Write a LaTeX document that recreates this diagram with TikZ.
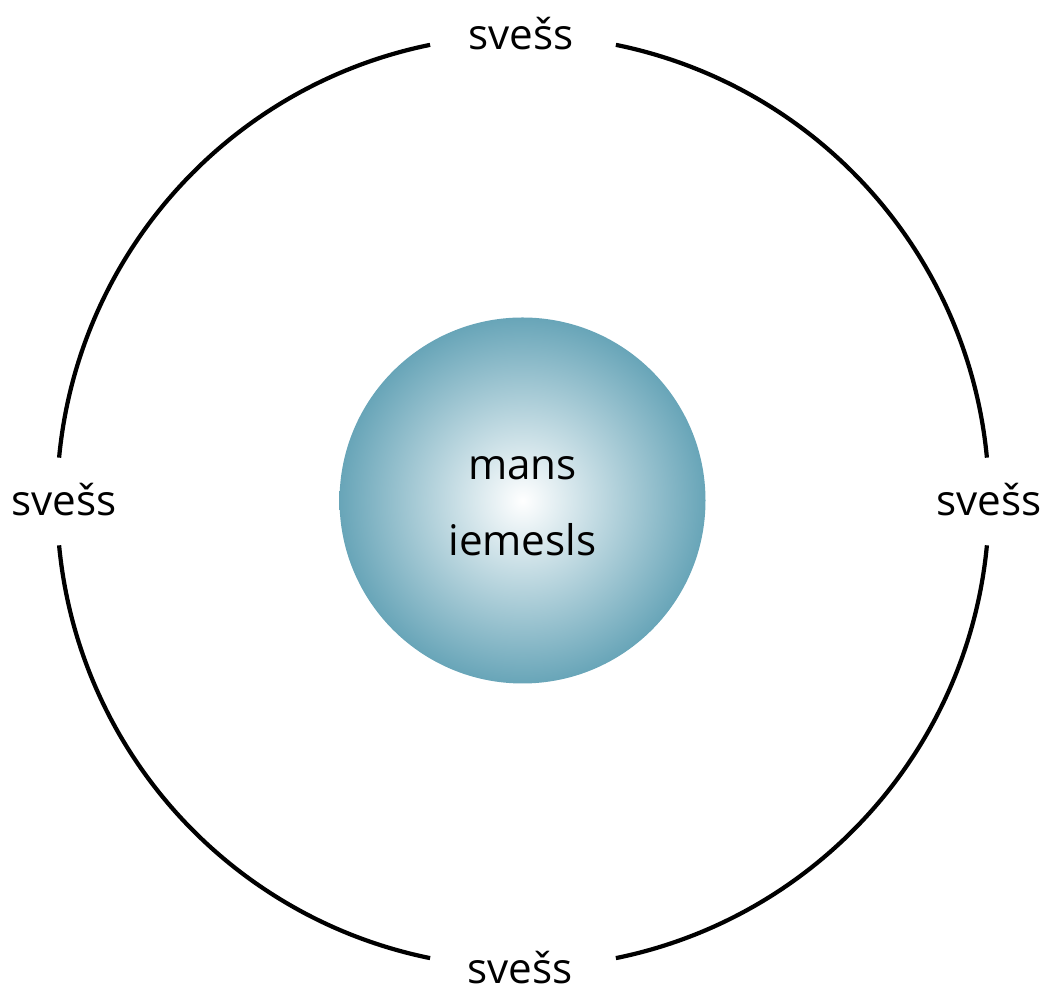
\documentclass[tikz,border=0pt]{standalone}
\usepackage{fontspec}
\setmainfont{Open Sans}
\definecolor{coreteal}{HTML}{68A5B8}
\begin{document}
\begin{tikzpicture}[x=0.025cm,y=0.025cm,every node/.style={font=\fontsize{30}{54}\selectfont},ring/.style={line width=3pt},lbl/.style={anchor=base,inner sep=0pt}]
\useasboundingbox (0,0) rectangle (1046,990);
\coordinate (o) at (523,488.5);
\shade[inner color=white,outer color=coreteal] (522.5,489.5) circle (183);
\node[align=center] (core) at (522.5,483.5){mans\\iemesls};
\foreach \a/\b in {5.4/78.5,101.5/174.6,185.4/258.5,281.5/354.6}
  \draw[ring] ([shift={(\a:466)}]o) arc[start angle=\a,end angle=\b,radius=466];
\node[lbl] (top) at (521,940){svešs};\node[lbl] (bot) at (520,6){svešs};
\node[lbl] (lft) at (64,474){svešs};\node[lbl] (rgt) at (989,474){svešs};
\end{tikzpicture}
\end{document}
